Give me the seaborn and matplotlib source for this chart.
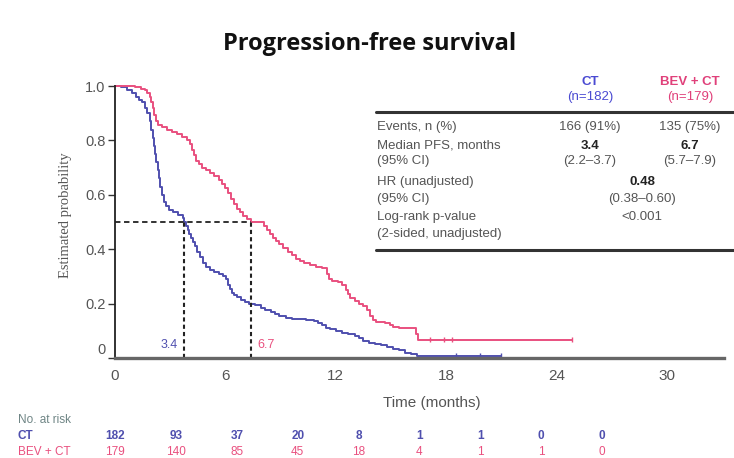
import matplotlib
matplotlib.use("Agg")
import matplotlib.pyplot as plt
import matplotlib.transforms as mtransforms
import numpy as np
import pandas as pd
import seaborn as sns

# ---------------- data ----------------
ct_time = [0, 0.3, 0.6, 0.85, 1.05, 1.2, 1.35, 1.5, 1.6, 1.7,
           1.78, 1.85, 1.92, 1.98, 2.04, 2.1, 2.16, 2.22, 2.3, 2.4,
           2.5, 2.65, 2.85, 3.1, 3.35, 3.42, 3.5, 3.58, 3.66, 3.75,
           3.85, 3.95, 4.05, 4.2, 4.35, 4.5, 4.7, 4.9, 5.1, 5.3,
           5.45, 5.55, 5.65, 5.75, 5.85, 6.0, 6.2, 6.4, 6.6, 6.9,
           7.2, 7.4, 7.7, 7.9, 8.1, 8.4, 8.7, 9.0, 9.4, 9.8,
           10.0, 10.2, 10.4, 10.6, 10.9, 11.2, 11.5, 11.8, 12.0, 12.2,
           12.5, 12.8, 13.1, 13.4, 13.7, 14.0, 14.3, 14.6, 14.9, 19.0]
ct_surv = [1.0, 0.995, 0.985, 0.975, 0.96, 0.95, 0.94, 0.92, 0.90, 0.87,
           0.84, 0.81, 0.78, 0.75, 0.72, 0.69, 0.66, 0.63, 0.60, 0.575,
           0.56, 0.545, 0.535, 0.525, 0.515, 0.50, 0.485, 0.47, 0.455, 0.44,
           0.425, 0.41, 0.39, 0.37, 0.35, 0.335, 0.325, 0.318, 0.31, 0.30,
           0.29, 0.27, 0.255, 0.24, 0.232, 0.225, 0.215, 0.207, 0.20, 0.195,
           0.185, 0.178, 0.17, 0.162, 0.155, 0.148, 0.145, 0.142, 0.14, 0.135,
           0.128, 0.12, 0.112, 0.105, 0.098, 0.092, 0.087, 0.08, 0.072, 0.062,
           0.055, 0.05, 0.046, 0.04, 0.034, 0.028, 0.02, 0.014, 0.008, 0.008]

bev_time = [0, 0.5, 1.0, 1.3, 1.5, 1.6, 1.7, 1.78, 1.85, 1.92,
            2.0, 2.1, 2.3, 2.55, 2.8, 3.05, 3.3, 3.55, 3.7, 3.8,
            3.9, 4.0, 4.15, 4.3, 4.5, 4.7, 4.9, 5.1, 5.25, 5.4,
            5.55, 5.7, 5.85, 6.0, 6.15, 6.3, 6.5, 6.7, 7.35, 7.5,
            7.65, 7.8, 7.95, 8.1, 8.3, 8.5, 8.7, 8.9, 9.1, 9.3,
            9.6, 9.9, 10.2, 10.45, 10.55, 10.7, 11.0, 11.2, 11.4, 11.5,
            11.6, 11.8, 12.0, 12.2, 12.4, 12.55, 12.7, 12.85, 13.3, 13.55,
            13.7, 14.0, 14.5, 14.85, 14.95, 22.5]
bev_surv = [1.0, 1.0, 0.995, 0.99, 0.985, 0.975, 0.96, 0.94, 0.92, 0.895,
            0.87, 0.855, 0.848, 0.84, 0.832, 0.822, 0.812, 0.80, 0.785, 0.765,
            0.745, 0.725, 0.712, 0.70, 0.69, 0.68, 0.668, 0.655, 0.64, 0.625,
            0.605, 0.585, 0.565, 0.548, 0.535, 0.522, 0.51, 0.50, 0.485, 0.47,
            0.455, 0.44, 0.43, 0.42, 0.405, 0.39, 0.378, 0.365, 0.355, 0.348,
            0.342, 0.336, 0.33, 0.31, 0.29, 0.284, 0.278, 0.27, 0.25, 0.235,
            0.22, 0.21, 0.2, 0.19, 0.175, 0.155, 0.14, 0.133, 0.128, 0.12,
            0.115, 0.112, 0.11, 0.09, 0.068, 0.068]

ct_cens_time = [16.8, 18.0, 19.0]
ct_cens_surv = [0.008, 0.008, 0.008]
bev_cens_time = [15.5, 16.2, 16.6, 22.5]
bev_cens_surv = [0.068, 0.068, 0.068, 0.068]

arms = ["CT", "BEV + CT"]
arm_n = ["(n=182)", "(n=179)"]
medians = [3.4, 6.7]

x_ticks = [0, 6, 12, 18, 24, 30]
y_ticks = [0, 0.2, 0.4, 0.6, 0.8, 1.0]
y_ticklabels = ["0", "0.2", "0.4", "0.6", "0.8", "1.0"]

risk_times = [0, 3, 6, 9, 12, 15, 18, 21, 24]
risk_ct = [182, 93, 37, 20, 8, 1, 1, 0, 0]
risk_bev = [179, 140, 85, 45, 18, 4, 1, 1, 0]

tbl_rows = ["Events, n (%)", "Median PFS, months", "(95% CI)", "HR (unadjusted)",
            "(95% CI)", "Log-rank p-value", "(2-sided, unadjusted)"]
tbl_ct = ["166 (91%)", "3.4", "(2.2\u20133.7)"]
tbl_bev = ["135 (75%)", "6.7", "(5.7\u20137.9)"]
tbl_both = ["0.48", "(0.38\u20130.60)", "<0.001"]

# ---------------- style ----------------
sns.set_theme(style="white")
plt.rcParams["font.family"] = ["Liberation Sans", "DejaVu Sans"]

BLUE = "#4f4fae"
PINK = "#e9507f"
GREY = "#555555"
W, H = 734, 458

fig = plt.figure(figsize=(W / 100, H / 100), dpi=100)
ax = fig.add_axes([115 / W, 1 - 358 / H, (724 - 115) / W, (358 - 86) / H])

df = pd.concat([
    pd.DataFrame({"time": ct_time, "surv": ct_surv, "arm": arms[0]}),
    pd.DataFrame({"time": bev_time, "surv": bev_surv, "arm": arms[1]}),
])
sns.lineplot(data=df, x="time", y="surv", hue="arm", palette={arms[0]: BLUE, arms[1]: PINK},
             estimator=None, sort=False, drawstyle="steps-post", linewidth=1.4,
             legend=False, ax=ax)
for ln in ax.lines:
    ln.set_clip_on(False)

cdf = pd.concat([
    pd.DataFrame({"time": ct_cens_time, "surv": ct_cens_surv, "arm": arms[0]}),
    pd.DataFrame({"time": bev_cens_time, "surv": bev_cens_surv, "arm": arms[1]}),
])
sns.scatterplot(data=cdf, x="time", y="surv", hue="arm", palette={arms[0]: BLUE, arms[1]: PINK},
                marker="|", s=18, linewidth=1.0, legend=False, ax=ax, clip_on=False)

# median dashed lines
ax.plot([0, medians[1]], [0.5, 0.5], ls=(0, (3, 2)), color="#222222", lw=1.3)
for m in medians:
    ax.plot([m, m], [0, 0.5], ls=(0, (2, 1.5)), color="#222222", lw=1.5)
ax.text(medians[0] - 0.3, 0.048, f"{medians[0]}", color=BLUE, fontsize=9, ha="right", va="center")
ax.text(medians[1] + 0.3, 0.048, f"{medians[1]}", color=PINK, fontsize=9, ha="left", va="center")

ax.set_xlim(0, 30)
ax.set_ylim(0, 1.0)
ax.set_xticks(x_ticks)
ax.set_yticks(y_ticks)
ax.set_yticklabels(y_ticklabels)
ax.tick_params(axis="x", direction="out", length=4.5, width=1.3, color="#444444", labelbottom=False)
ax.tick_params(axis="y", direction="out", length=5, width=1.0, color="#333333", pad=2,
               labelsize=10.5, labelcolor=GREY, left=True)
# the "0" label sits a little above the axis line in the original
lbl0 = ax.get_yticklabels()[0]
lbl0.set_transform(lbl0.get_transform() + mtransforms.ScaledTranslation(0, 9 / 100, fig.dpi_scale_trans))
ax.set_xlabel("")
ax.set_ylabel("")
for s in ["top", "right"]:
    ax.spines[s].set_visible(False)
ax.spines["left"].set_color("#222222")
ax.spines["left"].set_linewidth(1.3)
ax.spines["bottom"].set_color("#666666")
ax.spines["bottom"].set_linewidth(2.4)

# tick labels (drawn slightly compressed, as in the original figure)
sec = ax.secondary_xaxis("bottom", functions=(lambda x: x / 0.906, lambda s: s * 0.906))
sec.set_xticks(x_ticks)
sec.tick_params(length=0, pad=8, labelsize=11, labelcolor=GREY)
sec.spines["bottom"].set_visible(False)

fig.text(432 / W, 1 - 403 / H, "Time (months)", ha="center", va="center", fontsize=11, color=GREY)
fig.text(66 / W, 1 - 215 / H, "Estimated probability", rotation=90, ha="center", va="center",
         fontsize=10.5, color=GREY, family=["Liberation Serif", "DejaVu Serif"])

fig.text(370 / W, 1 - 44 / H, "Progression-free survival", ha="center", va="center",
         fontsize=17, fontweight="bold", color="#111111", family=["Open Sans", "DejaVu Sans"])

# ---------------- summary table ----------------
TS = 9.5
c1, c2, cm = 590 / W, 690 / W, 642 / W
fy = lambda y: 1 - y / H
fig.text(c1, fy(82), arms[0], color="#4a4ad2", fontsize=TS, ha="center", va="center", fontweight="bold")
fig.text(c1, fy(97), arm_n[0], color="#4a4ad2", fontsize=TS, ha="center", va="center")
fig.text(c2, fy(82), arms[1], color="#e0407a", fontsize=TS, ha="center", va="center", fontweight="bold")
fig.text(c2, fy(97), arm_n[1], color="#e0407a", fontsize=TS, ha="center", va="center")
fig.add_artist(plt.Line2D([376 / W, 1.0], [fy(112), fy(112)], color="#333333", lw=2.2))
fig.add_artist(plt.Line2D([376 / W, 1.0], [fy(250), fy(250)], color="#333333", lw=2.2))

row_y = [127, 146, 161, 182, 199, 217, 234]
for lab, yy in zip(tbl_rows, row_y):
    fig.text(377 / W, fy(yy), lab, color=GREY, fontsize=TS, ha="left", va="center")
for i, yy in enumerate(row_y[:3]):
    wt = "bold" if i == 1 else "normal"
    col = "#222222" if i == 1 else GREY
    fig.text(c1, fy(yy), tbl_ct[i], color=col, fontsize=TS, ha="center", va="center", fontweight=wt)
    fig.text(c2, fy(yy), tbl_bev[i], color=col, fontsize=TS, ha="center", va="center", fontweight=wt)
for i, yy in enumerate(row_y[3:6]):
    wt = "bold" if i == 0 else "normal"
    col = "#222222" if i == 0 else GREY
    fig.text(cm, fy(yy), tbl_both[i], color=col, fontsize=TS, ha="center", va="center", fontweight=wt)

# ---------------- number at risk ----------------
RS = 8.5
fig.text(18 / W, fy(420), "No. at risk", color="#6f8585", fontsize=RS, ha="left", va="center")
fig.text(18 / W, fy(436), arms[0], color=BLUE, fontsize=RS, ha="left", va="center", fontweight="bold")
fig.text(18 / W, fy(452), arms[1], color=PINK, fontsize=RS, ha="left", va="center")
trans = mtransforms.blended_transform_factory(ax.transData, fig.transFigure)
for t, a, b in zip(risk_times, risk_ct, risk_bev):
    ax.text(t, fy(436), str(a), transform=trans, color=BLUE, fontsize=RS, ha="center", va="center",
            fontweight="bold", clip_on=False)
    ax.text(t, fy(452), str(b), transform=trans, color=PINK, fontsize=RS, ha="center", va="center",
            clip_on=False)

fig.savefig("out.png", dpi=100, facecolor="white")
